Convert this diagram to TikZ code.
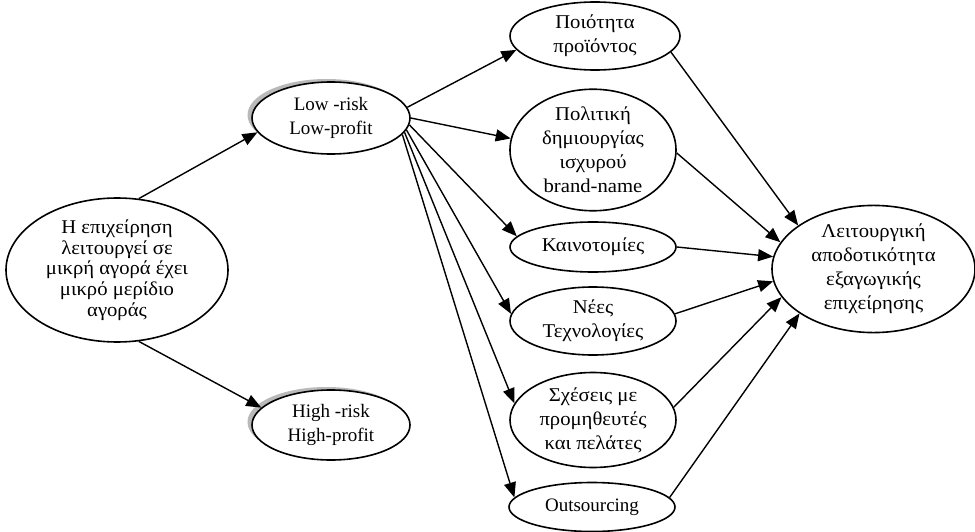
\documentclass[tikz,border=0pt]{standalone}
\usepackage{fontspec}
\setmainfont{Liberation Serif}
\newfontfamily\grkwide[FakeStretch=1.06]{Liberation Serif}
\usetikzlibrary{shapes.geometric,arrows.meta,shadows}
\begin{document}
\begin{tikzpicture}[x=1pt,y=-1pt,
  ell/.style={ellipse,draw,line width=1.6pt,fill=white,inner sep=0pt,align=center,
              font=\fontsize{19}{24}\selectfont},
  grk/.style={font=\grkwide\fontsize{19.5}{24}\selectfont},
  tight/.style={font=\grkwide\fontsize{19.5}{20.8}\selectfont},
  shad/.style={general shadow={fill=gray!55,shadow xshift=-4.5pt,shadow yshift=3pt}},
  arr/.style={-{Triangle[length=15pt,width=12pt]},line width=1.4pt}]
\useasboundingbox (0,0) rectangle (975,532);
% left
\node[ell,tight,minimum width=222pt,minimum height=144pt] (A) at (117,270)
  {Η επιχείρηση\\λειτουργεί σε\\μικρή αγορά έχει\\μικρό μερίδιο\\αγοράς};
% second column
\node[ell,shad,minimum width=158pt,minimum height=72pt] (L) at (331,118) {Low -risk\\Low-profit};
\node[ell,shad,minimum width=158pt,minimum height=70pt] (H) at (331,425) {High -risk\\High-profit};
% third column
\node[ell,grk,minimum width=170pt,minimum height=68pt] (P1) at (595,36) {Ποιότητα\\προϊόντος};
\node[ell,grk,minimum width=166pt,minimum height=116pt] (P2) at (593,150) {Πολιτική\\δημιουργίας\\ισχυρού\\brand-name};
\node[ell,grk,minimum width=166pt,minimum height=50pt] (P3) at (593,247) {Καινοτομίες};
\node[ell,grk,minimum width=166pt,minimum height=68pt] (P4) at (593,321) {Νέες\\Τεχνολογίες};
\node[ell,grk,minimum width=166pt,minimum height=95pt] (P5) at (593,420) {Σχέσεις με\\προμηθευτές\\και πελάτες};
\node[ell,minimum width=166pt,minimum height=49pt] (P6) at (592,507) {Outsourcing};
% right
\node[ell,grk,minimum width=203pt,minimum height=122pt] (R) at (873.5,269)
  {Λειτουργική\\αποδοτικότητα\\εξαγωγικής\\επιχείρησης};
% arrows from left
\draw[arr] (A.73) -- (L.191);
\draw[arr] (A.-73) -- (H.166);
% fan from Low-risk
\draw[arr] (L.8) -- (P1.190);
\draw[arr] (L.0) -- (P2.172);
\draw[arr] (L.-5) -- (P3.172);
\draw[arr] (L.-9) -- (P4.175);
\draw[arr] (L.-11) -- (P5.168);
\draw[arr] (L.-13) -- (P6.173);
% into right
\draw[arr] (P1.-12) -- (R.150);
\draw[arr] (P2.-2) -- (R.164);
\draw[arr] (P3.0) -- (R.173);
\draw[arr] (P4.5) -- (R.187);
\draw[arr] (P5.9) -- (R.197);
\draw[arr] (P6.7) -- (R.211);
\end{tikzpicture}
\end{document}
